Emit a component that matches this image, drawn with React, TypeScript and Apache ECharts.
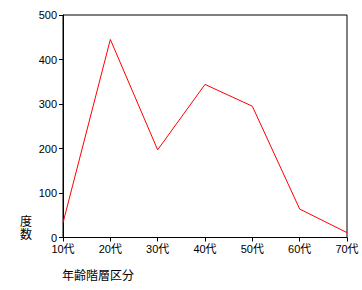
import React, { useEffect, useRef } from "react";
import * as echarts from "echarts";

const categories = ["10代", "20代", "30代", "40代", "50代", "60代", "70代"];
const counts = [33, 445, 197, 344, 295, 64, 11];
const yTicks = [0, 100, 200, 300, 400, 500];
const xName = "年齢階層区分";
const yNameChars = ["度", "数"];

export default function App() {
  const ref = useRef<HTMLDivElement>(null);
  useEffect(() => {
    const chart = echarts.init(ref.current!, null, { renderer: "svg" });
    const font = "'Liberation Sans', 'Noto Sans CJK JP', sans-serif";
    chart.setOption({
      animation: false,
      backgroundColor: "#fff",
      grid: {
        left: 63,
        right: 15,
        top: 15,
        bottom: 52.5,
        show: true,
        borderColor: "#000",
        borderWidth: 1,
        backgroundColor: "transparent",
      },
      xAxis: {
        type: "category",
        data: categories,
        boundaryGap: false,
        axisLine: { lineStyle: { color: "#000", width: 1 } },
        axisTick: { show: true, length: 4, inside: false, alignWithLabel: true, lineStyle: { color: "#000" } },
        axisLabel: { color: "#000", fontSize: 11, fontFamily: font, margin: 6, interval: 0 },
        splitLine: { show: false },
      },
      yAxis: {
        type: "value",
        min: yTicks[0],
        max: yTicks[yTicks.length - 1],
        interval: 100,
        axisLine: { show: true, lineStyle: { color: "#000", width: 1 } },
        axisTick: { show: true, length: 4, lineStyle: { color: "#000" } },
        axisLabel: { color: "#000", fontSize: 11, fontFamily: font, margin: 6 },
        splitLine: { show: false },
      },
      graphic: [
        ...yNameChars.map((ch, i) => ({
          type: "text",
          left: 20,
          top: 216 + i * 13,
          style: { text: ch, fontSize: 12, fontFamily: font, fill: "#000" },
        })),
        {
          type: "text",
          left: 62,
          top: 270,
          style: { text: xName, fontSize: 12, fontFamily: font, fill: "#000" },
        },
      ],
      series: [
        {
          type: "line",
          data: counts,
          symbol: "none",
          lineStyle: { color: "#ff0000", width: 1 },
        },
      ],
    });
    return () => chart.dispose();
  }, []);
  return <div ref={ref} style={{ width: 362, height: 290, position: "absolute", left: 0, top: 0 }} />;
}
